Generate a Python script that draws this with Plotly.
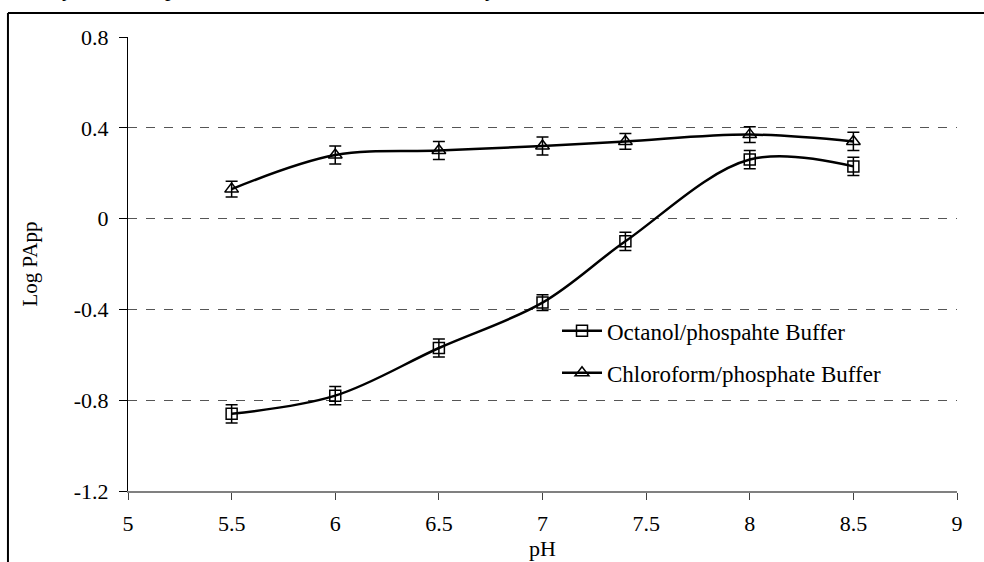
import plotly.graph_objects as go

# pH values at which the partition coefficient was measured
ph = [5.5, 6, 6.5, 7, 7.4, 8, 8.5]

# Log apparent partition coefficient for each solvent system
octanol = [-0.86, -0.78, -0.57, -0.37, -0.10, 0.26, 0.23]
octanol_err = [0.04, 0.04, 0.04, 0.035, 0.04, 0.04, 0.04]

chloroform = [0.13, 0.28, 0.30, 0.32, 0.34, 0.37, 0.34]
chloroform_err = [0.035, 0.04, 0.04, 0.04, 0.035, 0.035, 0.04]

x_ticks = [5, 5.5, 6, 6.5, 7, 7.5, 8, 8.5, 9]
y_ticks = [-1.2, -0.8, -0.4, 0, 0.4, 0.8]

FONT = "Liberation Serif, Times New Roman, serif"

fig = go.Figure()

fig.add_trace(go.Scatter(
    x=ph, y=octanol, name="Octanol/phospahte Buffer",
    mode="lines+markers", legendgroup="a",
    line=dict(color="black", width=2.5, shape="spline", smoothing=1),
    marker=dict(symbol="square-open", size=11, color="black",
                line=dict(color="black", width=1.5)),
    error_y=dict(type="data", array=octanol_err, visible=True,
                 color="black", thickness=1.5, width=6),
))

fig.add_trace(go.Scatter(
    x=ph, y=chloroform, name="Chloroform/phosphate Buffer",
    mode="lines+markers", legendgroup="b",
    line=dict(color="black", width=2.5, shape="spline", smoothing=1),
    marker=dict(symbol="triangle-up-open", size=12, color="black",
                line=dict(color="black", width=1.5)),
    error_y=dict(type="data", array=chloroform_err, visible=True,
                 color="black", thickness=1.5, width=6),
))

fig.update_layout(
    width=984, height=562,
    margin=dict(l=128, r=27, t=37, b=71),
    paper_bgcolor="white", plot_bgcolor="white",
    font=dict(family=FONT, color="black", size=22),
    showlegend=True,
    legend=dict(
        x=0.5175, y=0.40, xanchor="left", yanchor="top",
        bgcolor="rgba(0,0,0,0)", borderwidth=0,
        font=dict(family=FONT, size=23),
        itemwidth=40,
        tracegroupgap=9,
    ),
    xaxis=dict(
        range=[5, 9], tickvals=x_ticks, ticktext=[f"{v:g}" for v in x_ticks],
        showgrid=False, zeroline=False, automargin=False,
        showline=True, linecolor="#808080", linewidth=1.5,
        ticks="outside", ticklen=7, tickcolor="#404040", tickwidth=1,
        ticklabelstandoff=5, tickfont=dict(size=22),
        title=dict(text="pH", font=dict(size=22), standoff=0),
    ),
    yaxis=dict(
        range=[-1.2, 0.8], tickvals=y_ticks, ticktext=[f"{v:g}" for v in y_ticks],
        showgrid=True, gridcolor="#555555", griddash="dash", gridwidth=1,
        zeroline=False, automargin=False,
        showline=True, linecolor="black", linewidth=1,
        ticks="outside", ticklen=8, tickcolor="black", tickwidth=1,
        ticklabelstandoff=6, tickfont=dict(size=22),
        title=dict(text="Log PApp", font=dict(size=21), standoff=30),
    ),
    shapes=[
        # outer frame: top and left edges
        dict(type="line", xref="paper", yref="paper",
             x0=-0.1448, x1=1.04, y0=1.0529, y1=1.0529,
             line=dict(color="black", width=2)),
        dict(type="line", xref="paper", yref="paper",
             x0=-0.1448, x1=-0.1448, y0=1.0529, y1=-0.2,
             line=dict(color="black", width=2)),
    ],
    annotations=[
        dict(text=t, x=xp, y=1.0749, xref="paper", yref="paper",
             xanchor="center", yanchor="bottom", showarrow=False,
             font=dict(family=FONT, size=22))
        for t, xp in [("y", -0.0724), ("p", 0.0507), ("y", 0.4367)]
    ],
)

fig.write_html("out.html")
